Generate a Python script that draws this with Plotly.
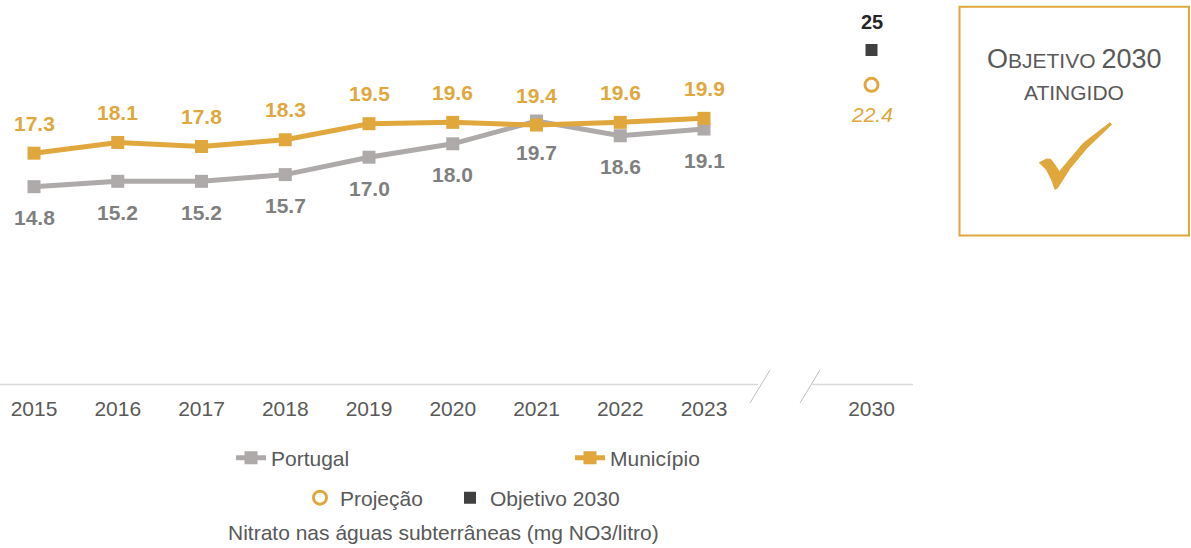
import plotly.graph_objects as go

# ---------------- data ----------------
years = [2015, 2016, 2017, 2018, 2019, 2020, 2021, 2022, 2023]
portugal = [14.8, 15.2, 15.2, 15.7, 17.0, 18.0, 19.7, 18.6, 19.1]
municipio = [17.3, 18.1, 17.8, 18.3, 19.5, 19.6, 19.4, 19.6, 19.9]
target_year = 2030
projecao = [22.4]
objetivo = [25]
tick_labels = [str(y) for y in years] + [str(target_year)]
axis_title = "Nitrato nas águas subterrâneas (mg NO3/litro)"

# ---------------- styling ----------------
ORANGE = "#E0A83C"
GRAY = "#AEAAAA"
GRAY_TXT = "#7F7F7F"
DARK = "#404040"
TXT = "#595959"
FONT = "Liberation Sans, Arial, sans-serif"
FS = 21

W, H = 1191, 548
L, R, T, B = 0, 278, 0, 163
PW, PH = W - L - R, H - T - B
YMAX = PH / 13.4


def px(x):
    return (x - L) / PW


def py(y):
    return (H - B - y) / PH


x_years = list(range(len(years)))
x_target = len(years) + 1
tick_vals = x_years + [x_target]

fig = go.Figure()

fig.add_trace(go.Scatter(
    x=x_years, y=portugal, name="Portugal", mode="lines+markers",
    line=dict(color=GRAY, width=5), marker=dict(symbol="square", size=13, color=GRAY),
    legend="legend", cliponaxis=False,
))
fig.add_trace(go.Scatter(
    x=x_years, y=municipio, name="Município", mode="lines+markers",
    line=dict(color=ORANGE, width=5), marker=dict(symbol="square", size=13, color=ORANGE),
    legend="legend", cliponaxis=False,
))
fig.add_trace(go.Scatter(
    x=[x_target], y=projecao, name="Projeção", mode="markers",
    marker=dict(symbol="circle-open", size=13, color=ORANGE, line=dict(width=3, color=ORANGE)),
    legend="legend2", cliponaxis=False,
))
fig.add_trace(go.Scatter(
    x=[x_target], y=objetivo, name="Objetivo 2030", mode="markers",
    marker=dict(symbol="square", size=12, color=DARK),
    legend="legend3", cliponaxis=False,
))

annotations = []
for xi, v in zip(x_years, municipio):
    annotations.append(dict(x=xi, y=v, xref="x", yref="y", text=f"{v:.1f}", showarrow=False,
                            yshift=30, font=dict(family=FONT, size=FS, color=ORANGE, weight="bold")))
for xi, v in zip(x_years, portugal):
    annotations.append(dict(x=xi, y=v, xref="x", yref="y", text=f"{v:.1f}", showarrow=False,
                            yshift=-31, font=dict(family=FONT, size=FS, color=GRAY_TXT, weight="bold")))
annotations.append(dict(x=x_target, y=objetivo[0], xref="x", yref="y", text=f"{objetivo[0]}",
                        showarrow=False, yshift=28,
                        font=dict(family=FONT, size=FS - 1, color="#262626", weight="bold")))
annotations.append(dict(x=x_target, y=projecao[0], xref="x", yref="y", text=f"{projecao[0]:.1f}",
                        showarrow=False, yshift=-30,
                        font=dict(family=FONT, size=FS, color=ORANGE, style="italic")))

# axis title below legend
annotations.append(dict(x=px(443), y=py(532), xref="paper", yref="paper", text=axis_title,
                        showarrow=False, xanchor="center", yanchor="middle",
                        font=dict(family=FONT, size=FS, color=TXT)))

# right box texts
annotations.append(dict(x=px(1074), y=py(59), xref="paper", yref="paper",
                        text="<span style='font-size:27px'>O</span>BJETIVO <span style='font-size:27px'>2030</span>",
                        showarrow=False, xanchor="center", yanchor="middle",
                        font=dict(family=FONT, size=21, color=TXT)))
annotations.append(dict(x=px(1074), y=py(93), xref="paper", yref="paper", text="ATINGIDO",
                        showarrow=False, xanchor="center", yanchor="middle",
                        font=dict(family=FONT, size=21, color=TXT)))


def xi_of(pxl):
    # pixel -> x data coordinate
    return (pxl - 34) / 83.75


shapes = [
    # broken x axis line
    dict(type="line", xref="paper", yref="paper", x0=0, x1=px(758), y0=py(384.5), y1=py(384.5),
         line=dict(color="#D9D9D9", width=1.5)),
    dict(type="line", xref="paper", yref="paper", x0=px(812), x1=1, y0=py(384.5), y1=py(384.5),
         line=dict(color="#D9D9D9", width=1.5)),
    dict(type="line", xref="paper", yref="paper", x0=px(750), x1=px(770), y0=py(403), y1=py(370),
         line=dict(color="#BFBFBF", width=1)),
    dict(type="line", xref="paper", yref="paper", x0=px(800), x1=px(820), y0=py(403), y1=py(370),
         line=dict(color="#BFBFBF", width=1)),
    # right box
    dict(type="rect", xref="paper", yref="paper", x0=px(959.5), x1=px(1189), y0=py(235.6), y1=py(6.7),
         line=dict(color=ORANGE, width=2), fillcolor="rgba(0,0,0,0)"),
]

check_pts = [(1039.3, 162.7), (1046.7, 159), (1050.7, 159.3), (1055, 165), (1059.3, 171.7),
             (1083.3, 143.3), (1110, 122.7), (1111.5, 124.5), (1086.7, 148.3), (1070, 168.3),
             (1057.3, 188.3), (1055, 189.3), (1051.7, 180), (1046.7, 170)]
path = "M " + " L ".join(f"{px(a):.5f},{py(b):.5f}" for a, b in check_pts) + " Z"
shapes.append(dict(type="path", xref="paper", yref="paper", path=path,
                   fillcolor=ORANGE, line=dict(color=ORANGE, width=1)))

legend_font = dict(family=FONT, size=FS, color=TXT)
fig.update_layout(
    width=W, height=H,
    margin=dict(l=L, r=R, t=T, b=B),
    paper_bgcolor="white", plot_bgcolor="white",
    font=dict(family=FONT, size=FS, color=TXT),
    xaxis=dict(range=[xi_of(0), xi_of(913)], tickvals=tick_vals, ticktext=tick_labels,
               showgrid=False, zeroline=False, showline=False,
               ticks="outside", ticklen=5, tickcolor="rgba(0,0,0,0)",
               tickfont=dict(family=FONT, size=FS, color=TXT), fixedrange=True),
    yaxis=dict(range=[0, YMAX], visible=False, fixedrange=True),
    legend=dict(orientation="h", x=px(231), xanchor="left", y=py(458), yanchor="middle",
                entrywidth=294, entrywidthmode="pixels", bgcolor="rgba(0,0,0,0)",
                font=legend_font),
    legend2=dict(orientation="h", x=px(300), xanchor="left", y=py(498), yanchor="middle",
                 bgcolor="rgba(0,0,0,0)", font=legend_font),
    legend3=dict(orientation="h", x=px(450), xanchor="left", y=py(498), yanchor="middle",
                 bgcolor="rgba(0,0,0,0)", font=legend_font),
    annotations=annotations,
    shapes=shapes,
    showlegend=True,
)

fig.write_html("out.html", config={"displayModeBar": False},
               post_script="document.body.style.margin='0px';")
